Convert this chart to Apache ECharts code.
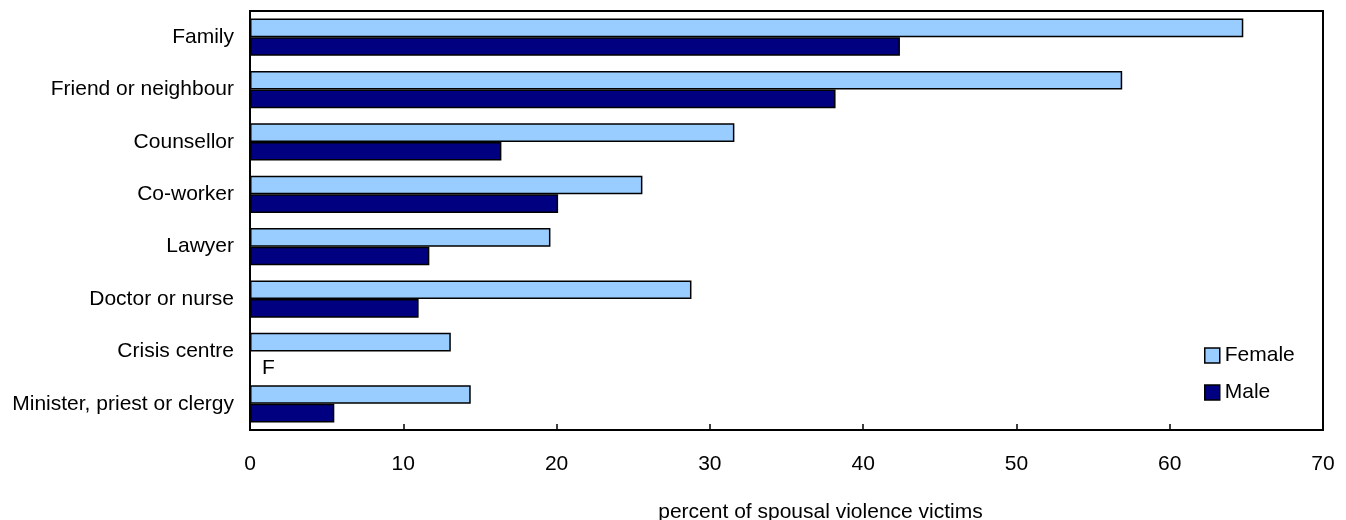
<!DOCTYPE html>
<html>
<head>
<meta charset="utf-8">
<script src="https://cdn.jsdelivr.net/npm/echarts@6/dist/echarts.min.js"></script>
<style>
html,body{margin:0;padding:0;background:#fff;}
#chart{width:1346px;height:520px;}
</style>
</head>
<body>
<div id="chart"></div>
<script>
const categories = ["Family","Friend or neighbour","Counsellor","Co-worker","Lawyer","Doctor or nurse","Crisis centre","Minister, priest or clergy"];
const female = [64.8, 56.9, 31.6, 25.6, 19.6, 28.8, 13.1, 14.4];
const male = [42.4, 38.2, 16.4, 20.1, 11.7, 11.0, null, 5.5];
const maleNotes = [null, null, null, null, null, null, "F", null];
const xTicks = [0, 10, 20, 30, 40, 50, 60, 70];
const xTitle = "percent of spousal violence victims";

const FONT = '"Liberation Sans", Arial, Helvetica, sans-serif';
const FS = 21;
const chart = echarts.init(document.getElementById('chart'), null, {renderer:'canvas'});

const maleData = male.map((v, i) => {
  if (v === null && maleNotes[i]) {
    return {
      value: 0,
      itemStyle: {borderWidth: 0, color: 'rgba(0,0,0,0)'},
      label: {show: true, position: 'right', distance: 12, offset: [0, 7], formatter: maleNotes[i],
              color: '#000', fontSize: FS, fontFamily: FONT}
    };
  }
  return v;
});

chart.setOption({
  animation: false,
  backgroundColor: '#fff',
  textStyle: {fontFamily: FONT},
  grid: {left: 250, right: 23, top: 11, bottom: 90, show: true, borderColor: '#000', borderWidth: 2,
         containLabel: false, outerBoundsMode: 'none'},
  legend: {
    orient: 'vertical', left: 1204, top: 345, padding: 0,
    itemWidth: 15, itemHeight: 15, itemGap: 16,
    textStyle: {fontSize: FS, color: '#000', fontFamily: FONT},
    data: [
      {name: 'Female', icon: 'rect', itemStyle: {borderColor: '#000', borderWidth: 1.5}},
      {name: 'Male', icon: 'rect', itemStyle: {borderColor: '#000', borderWidth: 1.5}}
    ]
  },
  xAxis: {
    type: 'value', min: xTicks[0], max: xTicks[xTicks.length-1], interval: 10,
    name: xTitle, nameLocation: 'middle', nameGap: 72,
    nameTextStyle: {fontSize: FS, color: '#000', fontFamily: FONT, padding: [0,0,0,68]},
    axisLine: {show: true, lineStyle: {color: '#000', width: 2}},
    axisTick: {show: true, inside: true, length: 6, lineStyle: {color: '#000', width: 1.5}},
    axisLabel: {fontSize: FS, color: '#000', margin: 24, fontFamily: FONT},
    splitLine: {show: false}
  },
  yAxis: {
    type: 'category', data: categories, inverse: true,
    axisLine: {show: true, lineStyle: {color: '#000', width: 2}},
    axisTick: {show: false},
    axisLabel: {fontSize: FS, color: '#000', margin: 16, fontFamily: FONT}
  },
  series: [
    {name: 'Female', type: 'bar', data: female, barGap: '0%', barCategoryGap: '29%',
     itemStyle: {color: '#99ccff', borderColor: '#000', borderWidth: 1.5}},
    {name: 'Male', type: 'bar', data: maleData, barGap: '0%', barCategoryGap: '29%',
     itemStyle: {color: '#000080', borderColor: '#000', borderWidth: 1.5}}
  ]
});
</script>
</body>
</html>
